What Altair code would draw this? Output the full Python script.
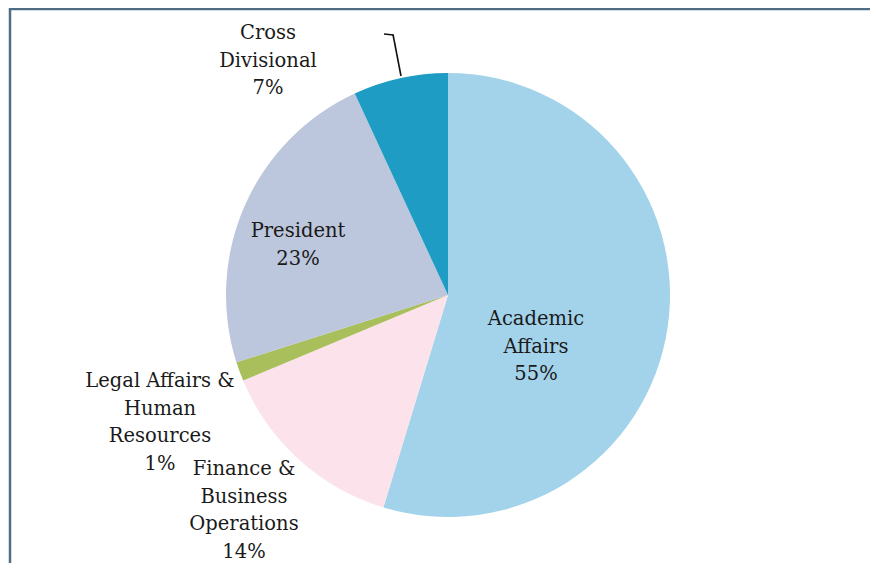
import altair as alt
import pandas as pd

# ---- data ----
categories = [
    "Academic Affairs",
    "Finance & Business Operations",
    "Legal Affairs & Human Resources",
    "President",
    "Cross Divisional",
]
label_lines = [
    "Academic\nAffairs",
    "Finance &\nBusiness\nOperations",
    "Legal Affairs &\nHuman\nResources",
    "President",
    "Cross\nDivisional",
]
shares = [54.7, 14.0, 1.4, 23.0, 6.9]
colors = ["#a3d3ea", "#fbe2eb", "#a9bf5c", "#bcc6dc", "#1e9cc3"]

# ---- layout (annotation placement: first-line centre, chart pixel coords) ----
label_pos = [(528, 311), (236, 461), (152, 373), (290, 223), (260, 25)]
W, H = 862, 555
CX, CY, R = 440, 287, 222

df = pd.DataFrame({
    "category": categories,
    "share": shares,
    "idx": list(range(len(categories))),
    "label": [f"{l}\n{round(v)}%" for l, v in zip(label_lines, shares)],
    "lx": [p[0] for p in label_pos],
    "ly": [p[1] for p in label_pos],
})

pie = alt.Chart(df).mark_arc(outerRadius=R, stroke=None).encode(
    theta=alt.Theta("share:Q", stack=True),
    order=alt.Order("idx:Q"),
    color=alt.Color("category:N", scale=alt.Scale(domain=categories, range=colors), legend=None),
    x=alt.value(CX),
    y=alt.value(CY),
)

labels = alt.Chart(df).mark_text(
    font="DejaVu Serif", fontSize=19.5, color="#1a1a1a",
    lineBreak="\n", lineHeight=27.5, align="center", baseline="middle",
).encode(
    x=alt.X("lx:Q", scale=None),
    y=alt.Y("ly:Q", scale=None),
    text="label:N",
)

frame_color = "#4f6e86"
top_line = alt.Chart(df.head(1)).mark_rule(color=frame_color, strokeWidth=2.5).encode(
    x=alt.value(1), x2=alt.value(W + 5), y=alt.value(1)
)
left_line = alt.Chart(df.head(1)).mark_rule(color=frame_color, strokeWidth=2.5).encode(
    x=alt.value(2), y=alt.value(0), y2=alt.value(H + 5)
)

# leader line for Cross Divisional
lead_h = alt.Chart(df.head(1)).mark_rule(color="#111111", strokeWidth=1.6).encode(
    x=alt.value(376), x2=alt.value(385.5), y=alt.value(26), y2=alt.value(27)
)
lead_v = alt.Chart(df.head(1)).mark_rule(color="#111111", strokeWidth=1.6).encode(
    x=alt.value(385), x2=alt.value(393), y=alt.value(26.5), y2=alt.value(68)
)

chart = alt.layer(pie, labels, top_line, left_line, lead_h, lead_v).properties(
    width=W, height=H, autosize=alt.AutoSizeParams(type="none"), padding=0,
    background="white",
).configure_view(stroke=None)

chart.save("out.html", embed_options={"renderer": "svg", "actions": False})
